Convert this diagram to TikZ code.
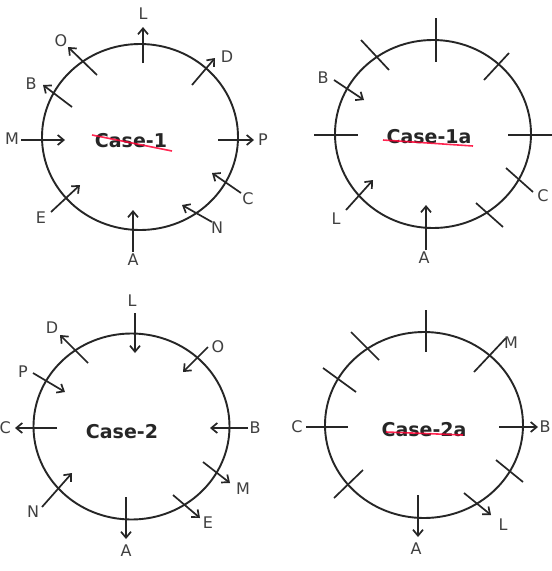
\documentclass[tikz,border=0pt]{standalone}
\usepackage{fontspec}
\setmainfont{DejaVu Sans}
\usetikzlibrary{arrows.meta}
\begin{document}
\begin{tikzpicture}[x=1pt,y=-1pt,
  ring/.style={draw=black!85,line width=1.9pt},
  arr/.style={draw=black!85,line width=1.7pt,-{Straight Barb[length=6pt,width=10pt,line width=1.7pt]}},
  tick/.style={draw=black!85,line width=1.7pt},
  lab/.style={font=\fontsize{16}{16}\selectfont,text=black!75,inner sep=0pt},
  case/.style={font=\fontsize{19}{19}\selectfont\bfseries,text=black!85,inner sep=0pt},
  redline/.style={draw=red!80!magenta,line width=1.6pt,opacity=0.85}]
\useasboundingbox (0,0) rectangle (552,571);
\fill[white] (0,0) rectangle (552,571);

% ---------- Case-1 ----------
\draw[ring] (140,137) ellipse [x radius=98pt, y radius=93pt];
\node[case] (c1) at (131,141) {Case-1};
\draw[redline] (92,135) -- (172,151);
\node[lab] (L1) at (143,14) {L};
\node[lab] (D1) at (227,57) {D};
\node[lab] (O1) at (61,41) {O};
\node[lab] (B1) at (31,84) {B};
\node[lab] (M1) at (12,139) {M};
\node[lab] (P1) at (263,140) {P};
\node[lab] (C1) at (248,199) {C};
\node[lab] (N1) at (217,228) {N};
\node[lab] (A1) at (133,260) {A};
\node[lab] (E1) at (41,218) {E};
\coordinate (l1a) at (143,63);  \coordinate (l1b) at (143,27);
\coordinate (d1a) at (192,85);  \coordinate (d1b) at (215,58);
\coordinate (o1a) at (97,75);   \coordinate (o1b) at (68,47);
\coordinate (b1a) at (72,107);  \coordinate (b1b) at (43,85);
\coordinate (m1a) at (21,140);  \coordinate (m1b) at (65,140);
\coordinate (p1a) at (218,140); \coordinate (p1b) at (254,140);
\coordinate (c1a) at (241,193); \coordinate (c1b) at (212,173);
\coordinate (n1a) at (212,222); \coordinate (n1b) at (182,205);
\coordinate (a1a) at (133,252); \coordinate (a1b) at (133,210);
\coordinate (e1a) at (51,212);  \coordinate (e1b) at (80,185);
\foreach \s/\t in {l1a/l1b,d1a/d1b,o1a/o1b,b1a/b1b,m1a/m1b,p1a/p1b,c1a/c1b,n1a/n1b,a1a/a1b,e1a/e1b}
  \draw[arr] (\s) -- (\t);

% ---------- Case-1a ----------
\draw[ring] (433,134) ellipse [x radius=98pt, y radius=94pt];
\node[case] (c1a) at (429,137) {Case-1a};
\draw[redline] (383,140) -- (473,146);
\node[lab] (B2) at (323,78) {B};
\node[lab] (C2) at (543,196) {C};
\node[lab] (L2) at (336,219) {L};
\node[lab] (A2) at (424,258) {A};
\coordinate (t2a) at (436,18);  \coordinate (t2b) at (436,62);
\coordinate (t2c) at (361,40);  \coordinate (t2d) at (389,70);
\coordinate (t2e) at (509,53);  \coordinate (t2f) at (484,80);
\coordinate (t2g) at (314,135); \coordinate (t2h) at (358,135);
\coordinate (t2i) at (508,135); \coordinate (t2j) at (552,135);
\coordinate (t2k) at (506,168); \coordinate (t2l) at (533,192);
\coordinate (t2m) at (476,203); \coordinate (t2n) at (503,227);
\foreach \s/\t in {t2a/t2b,t2c/t2d,t2e/t2f,t2g/t2h,t2i/t2j,t2k/t2l,t2m/t2n}
  \draw[tick] (\s) -- (\t);
\coordinate (b2a) at (334,80);  \coordinate (b2b) at (364,100);
\coordinate (l2a) at (346,210); \coordinate (l2b) at (373,180);
\coordinate (a2a) at (426,250); \coordinate (a2b) at (426,205);
\foreach \s/\t in {b2a/b2b,l2a/l2b,a2a/a2b}
  \draw[arr] (\s) -- (\t);

% ---------- Case-2 ----------
\draw[ring] (131.5,426.5) ellipse [x radius=98pt, y radius=93pt];
\node[case] (c2) at (122,432) {Case-2};
\node[lab] (L3) at (132,301) {L};
\node[lab] (O3) at (218,347) {O};
\node[lab] (D3) at (52,328) {D};
\node[lab] (P3) at (23,372) {P};
\node[lab,anchor=east] (C3) at (11,428) {C};
\node[lab] (B3) at (255,428) {B};
\node[lab] (M3) at (243,489) {M};
\node[lab] (E3) at (208,523) {E};
\node[lab] (A3) at (126,551) {A};
\node[lab] (N3) at (33,512) {N};
\coordinate (l3a) at (135,313); \coordinate (l3b) at (135,353);
\coordinate (o3a) at (208,347); \coordinate (o3b) at (183,372);
\coordinate (d3a) at (88,363);  \coordinate (d3b) at (60,335);
\coordinate (p3a) at (33,373);  \coordinate (p3b) at (65,392);
\coordinate (c3a) at (57,428);  \coordinate (c3b) at (15,428);
\coordinate (b3a) at (248,428); \coordinate (b3b) at (210,428);
\coordinate (m3a) at (203,462); \coordinate (m3b) at (230,483);
\coordinate (e3a) at (173,495); \coordinate (e3b) at (200,518);
\coordinate (a3a) at (126,497); \coordinate (a3b) at (126,539);
\coordinate (n3a) at (42,507);  \coordinate (n3b) at (72,473);
\foreach \s/\t in {l3a/l3b,o3a/o3b,d3a/d3b,p3a/p3b,c3a/c3b,b3a/b3b,m3a/m3b,e3a/e3b,a3a/a3b,n3a/n3b}
  \draw[arr] (\s) -- (\t);

% ---------- Case-2a ----------
\draw[ring] (424,425) ellipse [x radius=99pt, y radius=93pt];
\node[case] (c2a) at (424,430) {Case-2a};
\draw[redline] (386,432) -- (463,435);
\node[lab] (M4) at (511,343) {M};
\node[lab] (C4) at (297,427) {C};
\node[lab] (B4) at (545,427) {B};
\node[lab] (L4) at (503,525) {L};
\node[lab] (A4) at (416,549) {A};
\coordinate (t4a) at (426,310); \coordinate (t4b) at (426,352);
\coordinate (t4c) at (351,332); \coordinate (t4d) at (379,360);
\coordinate (t4e) at (323,368); \coordinate (t4f) at (356,392);
\coordinate (t4g) at (306,427); \coordinate (t4h) at (348,427);
\coordinate (t4i) at (334,498); \coordinate (t4j) at (363,470);
\coordinate (t4k) at (506,338); \coordinate (t4l) at (474,372);
\coordinate (t4m) at (496,460); \coordinate (t4n) at (523,482);
\foreach \s/\t in {t4a/t4b,t4c/t4d,t4e/t4f,t4g/t4h,t4i/t4j,t4k/t4l,t4m/t4n}
  \draw[tick] (\s) -- (\t);
\coordinate (b4a) at (499,427); \coordinate (b4b) at (538,427);
\coordinate (l4a) at (464,493); \coordinate (l4b) at (491,515);
\coordinate (a4a) at (418,495); \coordinate (a4b) at (418,537);
\foreach \s/\t in {b4a/b4b,l4a/l4b,a4a/a4b}
  \draw[arr] (\s) -- (\t);
\end{tikzpicture}
\end{document}
